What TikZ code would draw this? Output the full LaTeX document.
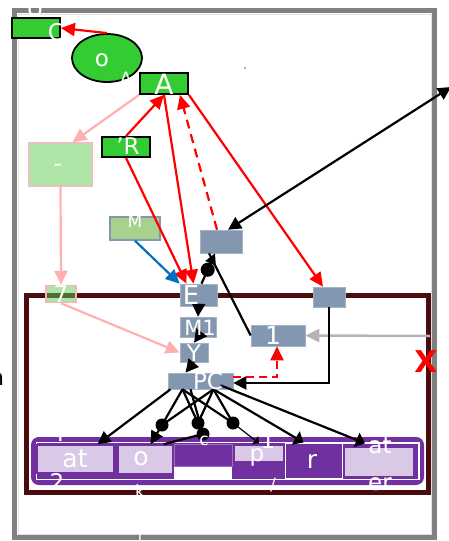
\documentclass[tikz,border=0pt]{standalone}
\usepackage{fontspec}
\setmainfont{DejaVu Sans}
\usetikzlibrary{arrows.meta,calc,shapes.geometric}
\definecolor{framegray}{HTML}{808080}
\definecolor{maroon}{HTML}{4A0C0C}
\definecolor{leaf}{HTML}{33CC33}
\definecolor{paleleaf}{HTML}{AEE6A8}
\definecolor{midleaf}{HTML}{5CC85C}
\definecolor{sage}{HTML}{A9D18E}
\definecolor{blush}{HTML}{FFB0B0}
\definecolor{steel}{HTML}{8497B0}
\definecolor{steeledge}{HTML}{A3B3C6}
\definecolor{azure}{HTML}{0070C0}
\definecolor{grape}{HTML}{7030A0}
\definecolor{lilac}{HTML}{D9C9E6}
\definecolor{ashline}{HTML}{B4B4B4}
\begin{document}
\begin{tikzpicture}[x=1pt,y=-1pt,
  lab/.style={text=white,inner sep=0,font=\fontsize{23}{25}\selectfont},
  smalllab/.style={text=white,inner sep=0,font=\fontsize{17}{19}\selectfont},
  greenbox/.style={rectangle,fill=leaf,draw=black,line width=1.8pt,inner sep=0},
  steelbox/.style={rectangle,fill=steel,draw=steeledge,line width=0.6pt,inner sep=0},
  lilacbox/.style={rectangle,fill=lilac,draw=grape,line width=1.5pt,inner sep=0},
  dot/.style={circle,fill=black,inner sep=0,minimum size=13pt},
  redarr/.style={draw=red,line width=2.2pt,-{Triangle[length=14pt,width=13pt]}},
  pinkarr/.style={draw=blush,line width=2.2pt,-{Triangle[length=14pt,width=13pt]}},
  blkarr/.style={draw=black,line width=2.2pt,-{Triangle[length=13pt,width=13pt]}},
  blkline/.style={draw=black,line width=2.2pt},
]
\useasboundingbox (0,0) rectangle (448,541);

% outer frame
\draw[framegray,line width=5pt] (14.5,10.5) rectangle (434.5,537.5);
\draw[gray!25,line width=1pt] (18,14) rectangle (431,534);
% inner maroon frame
\draw[maroon,line width=5pt] (26.5,295.5) rectangle (428.5,492.5);

% green nodes
\node[greenbox,minimum width=48,minimum height=20] (C) at (36,28) {};
\node[ellipse,fill=leaf,draw=black,line width=1.8pt,minimum width=70,minimum height=48,inner sep=0] (ell) at (107,58) {};
\node[greenbox,minimum width=48,minimum height=21] (A) at (164,83.5) {};
\node[greenbox,minimum width=48,minimum height=20] (R) at (126,147) {};
\node[rectangle,fill=paleleaf,draw=blush!85!black!60,line width=1.5pt,minimum width=63,minimum height=43,inner sep=0] (dash) at (60.5,164.5) {};
\node[rectangle,fill=midleaf,fill opacity=0.5,draw=blush,line width=1.5pt,minimum width=30,minimum height=17,inner sep=0] (seven) at (61,294) {};
\node[rectangle,fill=sage,draw=steel,line width=1.5pt,minimum width=50,minimum height=23,inner sep=0] (M) at (135,228.5) {};

% steel nodes
\node[steelbox,minimum width=42,minimum height=23] (T) at (221,241.5) {};
\node[steelbox,minimum width=37,minimum height=22] (E) at (198.5,295) {};
\node[steelbox,minimum width=36,minimum height=20] (M1) at (198,327) {};
\node[steelbox,minimum width=28,minimum height=19] (Y) at (194,352.5) {};
\node[steelbox,minimum width=65,minimum height=16] (PC) at (200.5,381) {};
\node[steelbox,minimum width=54,minimum height=21] (one) at (278,335.5) {};
\node[steelbox,minimum width=32,minimum height=20] (Q) at (329,297) {};

% purple strip
\draw[grape,fill=grape,line width=2pt,rounded corners=7pt] (32,438) rectangle (423,484);
\draw[white,line width=1pt] (36,442) rectangle (419,479);
\fill[white] (174,466.5) rectangle (232,478.5);
\node[lilacbox,minimum width=77,minimum height=28] (at) at (75.5,459) {};
\node[lilacbox,minimum width=55,minimum height=29] (o) at (145.5,459.5) {};
\node[rectangle,fill=grape,draw=grape!70,line width=1pt,minimum width=58,minimum height=22,inner sep=0] (dark) at (203,455) {};
\node[lilacbox,minimum width=50,minimum height=17] (p) at (259,453.5) {};
\node[rectangle,fill=grape,draw=white,line width=1pt,minimum width=57,minimum height=35,inner sep=0] (r) at (313.5,460.5) {};
\node[rectangle,draw=white,line width=1pt,minimum width=76,minimum height=36,inner sep=0] (atbox) at (380.5,461) {};
\node[lilacbox,minimum width=70,minimum height=30] (at2) at (379,462) {};

% dots on the fan below PC
\node[dot] (d1) at (162,425) {};
\node[dot] (d2) at (198,423) {};
\node[dot] (d3) at (203,434) {};
\node[dot] (d4) at (233,423) {};

% connectors
\draw[redarr] (ell.north) -- (C.east);
\draw[pinkarr] (A.south west) -- ($(dash.north)+(12,0)$);
\draw[pinkarr] (dash.south) -- (seven.north);
\draw[pinkarr] (seven.south) -- (Y.west);
\draw[redarr] (R.north) -- (A.south);
\draw[redarr] (R.south) -- ($(E.north)+(-12,0)$);
\draw[redarr] (A.south) -- ($(E.north)+(-5,0)$);
\draw[redarr,dashed,dash pattern=on 9pt off 6pt] ($(T.north)+(-4,0)$) -- ($(A.south)+(16,0)$);
\draw[redarr] (A.south east) -- ($(Q.north)+(-6,0)$);
\coordinate (edgeNE) at (451,87);
\draw[blkarr,{Triangle[length=13pt,width=13pt]}-{Triangle[length=13pt,width=13pt]}] ($(T.north)+(7,0)$) -- (edgeNE);
\draw[blkline,-{Circle[length=14pt]Triangle[length=11pt,width=11pt]}] ($(E.north)+(3,0)$) -- ($(T.south)+(-6,0)$);
\draw[blkline] ($(T.south)+(-12,0)$) -- (one.west);
\draw[draw=azure,line width=2.2pt,-{Triangle[length=14pt,width=13pt]}] (M.south) -- (E.north west);
\draw[blkarr] (E.south) -- (M1.north);
\draw[blkarr] (M1.south) -- (Y.north);
\draw[blkarr] (Y.south) -- ($(PC.north)+(-15,0)$);
\coordinate (edgeE) at (430,336);
\draw[draw=ashline,line width=2.5pt,-{Triangle[length=14pt,width=13pt]}] (edgeE) -- (one.east);
\draw[blkarr] (Q.south) |- ($(PC.east)+(0,2)$);
\draw[redarr,dashed,dash pattern=on 8pt off 5pt] ($(PC.east)+(0,-4)$) -| ($(one.south)+(-1,0)$);

% fan from PC to the strip
\draw[blkarr] ($(PC.south)+(-30,0)$) -- ($(at.north)+(22,0)$);
\draw[blkline] ($(PC.south)+(-18,0)$) -- (d1.center);
\draw[blkline] ($(PC.south)+(13,0)$) -- (d1.center);
\draw[blkarr] (d1.center) -- ($(o.north)+(5,0)$);
\draw[blkline] ($(PC.south)+(-18,0)$) -- (d2.center);
\draw[blkline] ($(PC.south)+(13,0)$) -- (d2.center);
\draw[blkline] (d2.center) -- (d3.center);
\draw[blkline] ($(PC.south)+(-10,0)$) -- (d3.center);
\draw[blkline] (d3.center) -- ($(o.north east)+(-10,0)$);
\draw[blkline] ($(PC.south)+(-18,0)$) -- (d4.center);
\draw[blkline] ($(PC.south)+(13,0)$) -- (d4.center);
\draw[draw=black,line width=1.2pt,-{Triangle[length=5pt,width=10pt]}] (d4.center) -- ($(p.north)+(0,-1)$);
\draw[blkarr,-{Triangle[length=9pt,width=15pt]}] ($(PC.south)+(13,0)$) -- ($(r.north)+(-10,0)$);
\draw[blkarr,-{Triangle[length=9pt,width=15pt]}] ($(PC.south)+(20,-4)$) -- ($(at2.north)+(-14,-3)$);

% texts
\node[lab] (tU) at (35,8) {U};
\node[lab] (tC) at (56,32) {C};
\node[lab] (to) at (102,60) {o};
\node[smalllab] (tAs) at (126,78) {A};
\node[lab,font=\fontsize{28}{30}\selectfont] (tA) at (164,84) {A};
\node[lab] (tR) at (128,146) {'R};
\node[lab] (tdash) at (58,168) {-};
\node[lab] (t7) at (61,294) {7};
\node[smalllab] (tM) at (135,221) {M};
\node[lab,font=\fontsize{26}{28}\selectfont] (tE) at (191,295) {E};
\node[lab,font=\fontsize{21}{23}\selectfont] (tM1) at (200,328) {M1};
\node[lab] (tY) at (194,353) {Y};
\node[lab] (tPC) at (208,381) {PC};
\node[lab,font=\fontsize{25}{27}\selectfont] (t1) at (273,335) {1};
\node[text=red,inner sep=0,font=\fontsize{30}{32}\selectfont\bfseries] (tX) at (426,362) {X};
\node[text=black,inner sep=0,font=\fontsize{22}{24}\selectfont] (tn) at (-3,379) {n};
\node[lab,font=\fontsize{25}{27}\selectfont] (tat) at (75,459) {at};
\node[lab,font=\fontsize{25}{27}\selectfont] (to2) at (141,459) {o};
\node[smalllab] (tc) at (204,441) {c};
\node[lab] (tp) at (257,457) {p};
\node[lab] (t1b) at (268,440) {1};
\node[lab,font=\fontsize{25}{27}\selectfont] (tr) at (312,461) {r};
\node[lab] (tat2) at (380,446) {at};
\node[lab] (ter) at (380,484) {er};
\node[lab] (t4) at (58,433) {4};
\node[lab] (t2) at (57,482) {2};
\node[smalllab] (tk) at (140,491) {k};
\node[smalllab] (tsl) at (273,485) {/};
\node[smalllab] (tbar) at (140,533) {|};
\fill[gray] (245,68) circle (1pt);
\end{tikzpicture}
\end{document}
